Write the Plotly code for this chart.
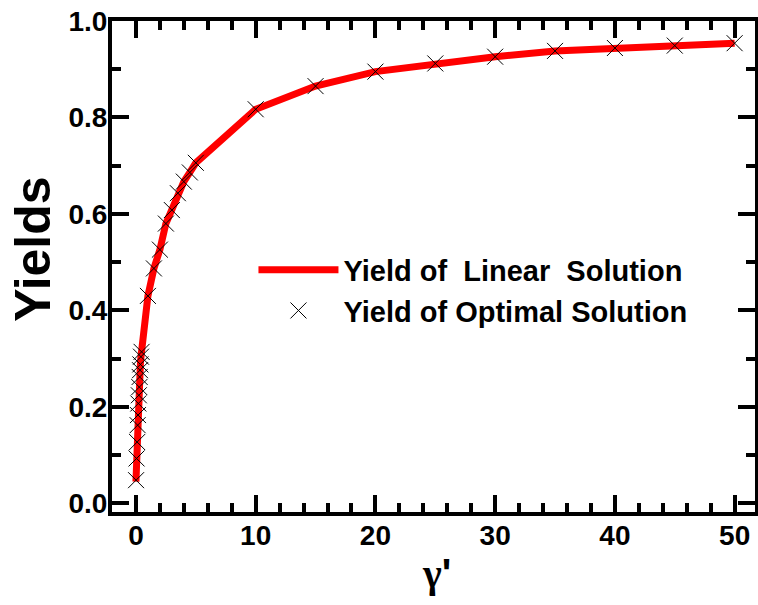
import plotly.graph_objects as go

# Yield of linear solution (red line)
gamma_lin = [0.0, 0.05, 0.1, 0.14, 0.17, 0.2, 0.24, 0.28, 0.31, 0.34, 0.37, 0.42, 0.47,
             1, 1.5, 2, 2.5, 3, 3.5, 4, 4.5, 5, 10, 15, 20, 25, 30, 35, 40, 45, 50]
yield_lin = [0.045, 0.093, 0.127, 0.162, 0.183, 0.207, 0.224, 0.241, 0.262, 0.276, 0.288, 0.304, 0.314,
             0.43, 0.487, 0.526, 0.58, 0.608, 0.643, 0.667, 0.686, 0.706, 0.817, 0.865, 0.895, 0.912,
             0.926, 0.938, 0.944, 0.949, 0.954]

# Yield of optimal solution (black crosses)
gamma_opt = [0.01, 0.05, 0.1, 0.14, 0.17, 0.2, 0.24, 0.28, 0.31, 0.34, 0.37, 0.42, 0.47,
             1, 1.5, 2, 2.5, 3, 3.5, 4, 4.5, 5, 10, 15, 20, 25, 30, 35, 40, 45, 50]
yield_opt = [0.048, 0.093, 0.127, 0.162, 0.183, 0.207, 0.224, 0.241, 0.262, 0.276, 0.288, 0.304, 0.314,
             0.43, 0.487, 0.526, 0.58, 0.608, 0.643, 0.667, 0.686, 0.706, 0.817, 0.865, 0.895, 0.912,
             0.926, 0.938, 0.944, 0.949, 0.954]

x_ticks = [0, 10, 20, 30, 40, 50]
y_ticks = [0.0, 0.2, 0.4, 0.6, 0.8, 1.0]

FONT = "Arial, Liberation Sans, sans-serif"
X_RANGE = [-2, 51.7]
Y_RANGE = [-0.018, 1.0]
X_DTICK = x_ticks[1] - x_ticks[0]
Y_DTICK = y_ticks[1] - y_ticks[0]

fig = go.Figure()
fig.add_trace(go.Scatter(
    x=gamma_lin, y=yield_lin, mode="lines",
    name="<b>Yield of\u00a0 Linear\u00a0 Solution</b>",
    line=dict(color="#ff0000", width=7),
))
fig.add_trace(go.Scatter(
    x=gamma_opt, y=yield_opt, mode="markers",
    name="<b>Yield of Optimal Solution</b>",
    marker=dict(symbol="x-thin", size=16, line=dict(color="black", width=1), color="black"),
))

tick_style = dict(ticks="inside", ticklen=17, tickwidth=4, tickcolor="black")
minor_x = dict(tickmode="linear", tick0=0, dtick=X_DTICK / 5, ticks="inside",
               ticklen=9, tickwidth=4, tickcolor="black", showgrid=False)
minor_y = dict(tickmode="linear", tick0=0, dtick=Y_DTICK / 2, ticks="inside",
               ticklen=9, tickwidth=4, tickcolor="black", showgrid=False)

axis_common = dict(
    showline=True, linecolor="black", linewidth=4, mirror="allticks",
    showgrid=False, zeroline=False, automargin=False,
    tickfont=dict(family=FONT, size=28, color="black", weight="bold"),
    ticklabelstandoff=-5, layer="above traces", **tick_style,
)

fig.update_layout(
    width=758, height=605,
    margin=dict(l=112, r=3, t=21, b=93),
    paper_bgcolor="white", plot_bgcolor="white",
    font=dict(family=FONT, color="black"),
    showlegend=True,
    legend=dict(
        x=0.22, y=0.545, xanchor="left", yanchor="top",
        bgcolor="rgba(0,0,0,0)", borderwidth=0,
        font=dict(family=FONT, size=29, color="black"),
        itemwidth=80, tracegroupgap=0,
    ),
    xaxis=dict(range=X_RANGE, tickmode="linear", tick0=x_ticks[0], dtick=X_DTICK,
               minor=minor_x, **axis_common),
    yaxis=dict(range=Y_RANGE, tickmode="linear", tick0=y_ticks[0], dtick=Y_DTICK,
               tickformat=".1f", minor=minor_y, **axis_common),
    annotations=[
        dict(text="<b>Yields</b>", xref="paper", yref="paper", x=-0.122, y=0.535,
             xanchor="center", yanchor="middle", textangle=-90, showarrow=False,
             font=dict(family=FONT, size=50, color="black")),
        dict(text="<b><span style='font-family:Liberation Serif, Times New Roman, serif'>γ</span>'</b>",
             xref="paper", yref="paper", x=0.505, y=-0.125,
             xanchor="center", yanchor="middle", showarrow=False,
             font=dict(family=FONT, size=40, color="black")),
    ],
)

fig.write_html("out.html", config={"displayModeBar": False},
               post_script="document.body.style.margin='0';")
